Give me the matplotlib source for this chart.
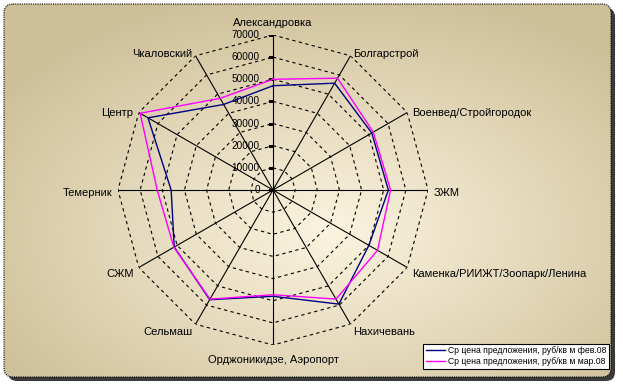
import numpy as np
import matplotlib
matplotlib.use("Agg")
import matplotlib.pyplot as plt
from matplotlib.patches import FancyBboxPatch
from matplotlib.colors import to_rgb

plt.rcParams['font.family'] = ['Liberation Sans', 'DejaVu Sans']

categories = ['Александровка', 'Болгарстрой', 'Военвед/Стройгородок', 'ЗЖМ',
              'Каменка/РИИЖТ/Зоопарк/Ленина', 'Нахичевань', 'Орджоникидзе, Аэропорт',
              'Сельмаш', 'СЖМ', 'Темерник', 'Центр', 'Чкаловский']
feb = [47100, 55700, 51500, 52100, 50000, 59500, 48000, 57200, 51500, 46000, 65200, 44600]
mar = [50000, 58300, 52300, 53100, 54500, 56900, 47300, 56900, 51700, 52300, 69300, 47800]
rticks = [0, 10000, 20000, 30000, 40000, 50000, 60000, 70000]
series_names = ['Ср цена предложения, руб/кв м фев.08',
                'Ср цена предложения, руб/кв м мар.08']
series_colors = ['#000080', '#FF00FF']

W, H = 623, 387
fig = plt.figure(figsize=(W / 100, H / 100), dpi=100)
fig.patch.set_facecolor('white')

# background frame with gradient
bg = fig.add_axes([0, 0, 1, 1])
bg.set_xlim(0, W)
bg.set_ylim(H, 0)
bg.axis('off')
shadow = FancyBboxPatch((8, 8), 607, 373, boxstyle="round,pad=0,rounding_size=9",
                        facecolor='#3a3a3a', edgecolor='none', zorder=0)
bg.add_patch(shadow)
frame = FancyBboxPatch((4, 4), 607, 373, boxstyle="round,pad=0,rounding_size=9",
                       facecolor='none', edgecolor='none', zorder=1)
bg.add_patch(frame)
yy, xx = np.mgrid[0:H, 0:W]
d = np.sqrt(((xx - 330) / 420.0) ** 2 + ((yy - 230) / 260.0) ** 2)
d = np.clip(d / 0.95, 0, 1)
c0 = np.array(to_rgb('#FCF4E0'))
c1 = np.array(to_rgb('#CDBF98'))
img = c0[None, None, :] * (1 - d[..., None]) + c1[None, None, :] * d[..., None]
im = bg.imshow(img, extent=(0, W, H, 0), zorder=1, interpolation='bilinear')
im.set_clip_path(frame)
border = FancyBboxPatch((4, 4), 607, 373, boxstyle="round,pad=0,rounding_size=9",
                        facecolor='none', edgecolor='black', linewidth=0.8,
                        linestyle=(0, (1, 1)), zorder=2)
bg.add_patch(border)

# radar axes
cx, cy, R = 273, 190, 155
ax = fig.add_axes([(cx - R) / W, (H - cy - R) / H, 2 * R / W, 2 * R / H], projection='polar')
ax.set_facecolor('none')
ax.set_theta_zero_location('N')
ax.set_theta_direction(-1)
ax.set_ylim(0, rticks[-1])
ax.set_xticks([])
ax.set_yticks([])
ax.grid(False)
ax.spines['polar'].set_visible(False)

n = len(categories)
theta = np.arange(n) * 2 * np.pi / n
theta_c = np.append(theta, theta[0])

for rv in rticks[1:]:
    ax.plot(theta_c, [rv] * (n + 1), color='black', lw=0.8, ls=(0, (3, 3)), zorder=2)
for t in theta:
    ax.plot([t, t], [0, rticks[-1]], color='black', lw=0.8, zorder=2)

# radial tick labels
ax.plot([0] * len(rticks), rticks, ls='none', marker=0, ms=3.5, mew=0.8, color='black', zorder=3)
for rv in rticks:
    ax.annotate(str(rv), xy=(0, rv), xytext=(-9.5, 0), textcoords='offset points',
                ha='right', va='center', fontsize=7.2, zorder=4)

for vals, col, name in zip([feb, mar], series_colors, series_names):
    ax.plot(theta_c, list(vals) + [vals[0]], color=col, lw=1.0, label=name, zorder=5)

# category labels
for t, lab in zip(theta, categories):
    s, c = np.sin(t), np.cos(t)
    off = 6
    dx, dy = off * s, off * c
    if abs(s) < 0.01:
        ha = 'center'
    elif s > 0:
        ha = 'left'
    else:
        ha = 'right'
    if abs(c) > 0.99:
        va = 'bottom' if c > 0 else 'top'
        extra = 1.0 if c > 0 else -3.0
    else:
        va = 'center'
        extra = -2.2
    ax.annotate(lab, xy=(t, rticks[-1]), xytext=(dx * 0.72, dy * 0.72 + extra),
                textcoords='offset points', ha=ha, va=va, fontsize=8, zorder=4,
                annotation_clip=False)

leg = fig.legend(loc='lower right', bbox_to_anchor=(609 / W, 1 - 369 / H),
                 borderaxespad=0, fontsize=6.2, fancybox=False, framealpha=1,
                 edgecolor='black', handlelength=2.2, handletextpad=0.4,
                 labelspacing=0.25, borderpad=0.3)
leg.get_frame().set_linewidth(0.8)

fig.savefig('out.png', dpi=100)
